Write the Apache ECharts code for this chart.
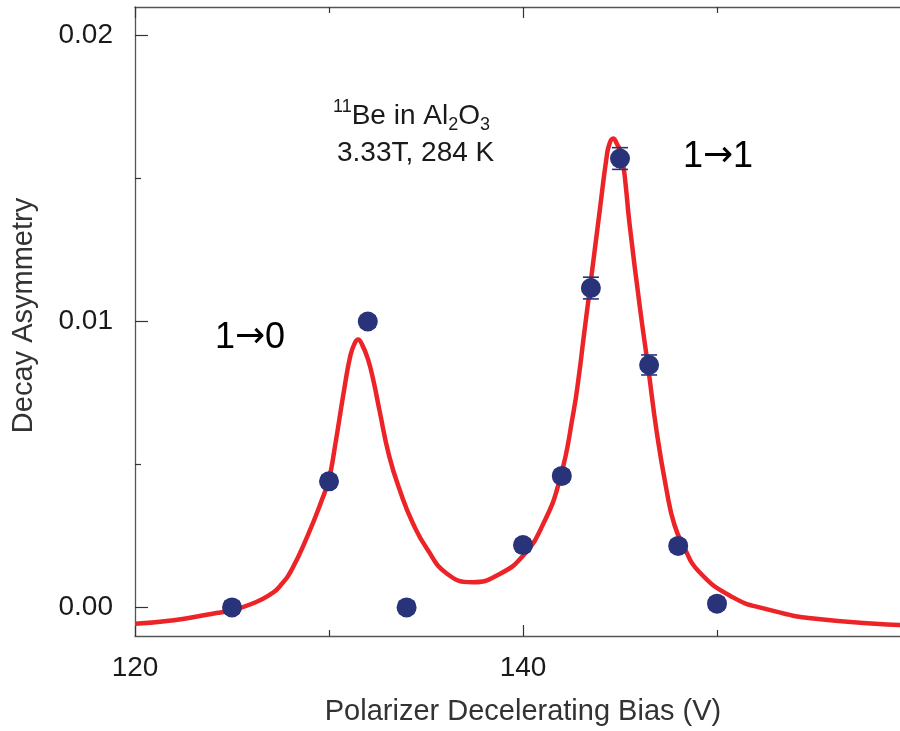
<!DOCTYPE html>
<html>
<head>
<meta charset="utf-8">
<script src="https://cdn.jsdelivr.net/npm/echarts@6/dist/echarts.min.js"></script>
<style>html,body{margin:0;padding:0;background:#fff;overflow:hidden;width:900px;height:731px}#c{width:914px;height:731px}</style>
</head>
<body>
<div id="c"></div>
<script>
// Measured data points
var biasV = [125, 130, 132, 134, 140, 142, 143.5, 145, 146.5, 148, 150];
var asym = [0.0000, 0.00441, 0.0100, 0.0000, 0.00218, 0.00460, 0.01117, 0.01570, 0.00848, 0.00215, 0.00013];
var asymErr = [0.0002, 0.0002, 0.0002, 0.0002, 0.0002, 0.0002, 0.00038, 0.00038, 0.00035, 0.0002, 0.0002];

// Fitted curve
var fitX = [120, 122, 124, 125, 126, 126.9, 127.5, 128.1, 128.9, 129.6, 130.0, 130.3, 130.8, 131.1, 131.3, 131.5, 131.7, 132.0, 132.3, 132.6, 133.1, 133.7, 134.3, 135.05, 136.1, 137.4, 138.8, 140.0, 141.0, 141.9, 142.6, 142.9, 143.1, 143.45, 143.97, 144.3, 144.45, 144.65, 144.85, 145.1, 145.5, 146.03, 146.45, 146.9, 147.4, 147.8, 148.26, 149.1, 150.8, 152.5, 155.1, 160];
var fitY = [-0.00057, -0.00045, -0.00022, -0.0001, 0.00012, 0.00042, 0.00077, 0.00135, 0.00251, 0.0037, 0.0045, 0.0056, 0.0077, 0.0088, 0.0092, 0.00937, 0.0092, 0.0087, 0.0079, 0.0069, 0.0053, 0.0040, 0.00298, 0.00205, 0.00117, 0.00088, 0.00117, 0.00181, 0.00286, 0.00448, 0.00682, 0.0082, 0.0093, 0.01117, 0.01396, 0.0157, 0.0162, 0.0164, 0.0162, 0.0158, 0.01337, 0.01047, 0.0084, 0.0061, 0.0041, 0.0029, 0.00216, 0.00123, 0.00036, -0.00005, -0.0004, -0.00063];

var yMajorTicks = [0, 0.01, 0.02];
var yMinorTicks = [0.005, 0.015];
var xLabels = [120, 140];

var FONT = 'Liberation Sans, Arial, sans-serif';
var TXT = '#1a1a1a';
var AX = '#555';
var XMIN = 120, XMAX = 160, YMIN = -0.001, YMAX = 0.021;

var points = biasV.map(function (x, i) { return [x, asym[i]]; });
var errs = biasV.map(function (x, i) { return [x, asym[i] - asymErr[i], asym[i] + asymErr[i]]; });
var fit = fitX.map(function (x, i) { return [x, fitY[i]]; });

function xAx(pos, extra) {
  var a = {
    type: 'value', min: XMIN, max: XMAX, interval: 20, position: pos,
    axisLine: {show: true, onZero: false, lineStyle: {color: AX, width: 1.3}},
    axisTick: {show: true, inside: true, length: 11, lineStyle: {color: '#333', width: 1.2}},
    minorTick: {show: true, splitNumber: 2, length: 6, lineStyle: {color: '#333', width: 1.2}},
    splitLine: {show: false}, minorSplitLine: {show: false},
    axisLabel: {show: false}
  };
  return Object.assign(a, extra || {});
}

var chart = echarts.init(document.getElementById('c'), null, {renderer: 'canvas'});
chart.setOption({
  animation: false,
  backgroundColor: '#fff',
  grid: {left: 135, right: 0, top: 7, bottom: 94, containLabel: false},
  xAxis: [
    xAx('bottom', {
      axisLabel: {show: true, fontSize: 28, fontFamily: FONT, color: TXT, margin: 18,
        formatter: function (v) { return xLabels.indexOf(v) >= 0 ? String(v) : ''; }},
      name: 'Polarizer Decelerating Bias (V)', nameLocation: 'middle', nameGap: 61,
      nameTextStyle: {fontSize: 29, fontFamily: FONT, color: '#333', padding: [0, 0, 0, 0]}
    }),
    xAx('top')
  ],
  yAxis: [{
    type: 'value', min: YMIN, max: YMAX, position: 'left',
    axisLine: {show: true, onZero: false, lineStyle: {color: AX, width: 1.3}},
    axisTick: {show: true, inside: true, length: 13, customValues: yMajorTicks, lineStyle: {color: '#333', width: 1.2}},
    splitLine: {show: false},
    axisLabel: {fontSize: 28, fontFamily: FONT, color: TXT, margin: 22, customValues: yMajorTicks,
      formatter: function (v) { return v.toFixed(2); }},
    name: 'Decay Asymmetry', nameLocation: 'middle', nameGap: 97, nameRotate: 90,
    nameTextStyle: {fontSize: 29, fontFamily: FONT, color: '#333', padding: [0, 0, 0, 12]}
  }, {
    type: 'value', min: YMIN, max: YMAX, position: 'left',
    axisLine: {show: false, onZero: false},
    axisTick: {show: true, inside: true, length: 6, customValues: yMinorTicks, lineStyle: {color: '#333', width: 1.2}},
    splitLine: {show: false},
    axisLabel: {show: false}
  }],
  series: [{
    type: 'line', data: fit, smooth: 0.5, showSymbol: false, symbol: 'none',
    lineStyle: {color: '#ec2428', width: 4.5}, z: 2, clip: true
  }, {
    type: 'custom', data: errs, z: 3,
    renderItem: function (params, api) {
      var x = api.value(0);
      var lo = api.coord([x, api.value(1)]);
      var hi = api.coord([x, api.value(2)]);
      var hw = 8;
      var st = {stroke: '#283379', lineWidth: 1.6};
      return {type: 'group', children: [
        {type: 'line', shape: {x1: lo[0], y1: lo[1], x2: hi[0], y2: hi[1]}, style: st},
        {type: 'line', shape: {x1: lo[0] - hw, y1: lo[1], x2: lo[0] + hw, y2: lo[1]}, style: st},
        {type: 'line', shape: {x1: hi[0] - hw, y1: hi[1], x2: hi[0] + hw, y2: hi[1]}, style: st}
      ]};
    }
  }, {
    type: 'scatter', data: points, symbol: 'circle', symbolSize: 20,
    itemStyle: {color: '#283379', opacity: 1}, z: 4
  }],
  graphic: [{
    type: 'text', x: 333, y: 116, z: 10,
    style: {
      text: '{sup|11}{n|Be in Al}{sub|2}{n|O}{sub|3}', align: 'left', verticalAlign: 'middle',
      rich: {
        n: {fontSize: 28, fontFamily: FONT, fill: TXT, lineHeight: 36, verticalAlign: 'middle'},
        sup: {fontSize: 18, fontFamily: FONT, fill: TXT, lineHeight: 20, verticalAlign: 'top'},
        sub: {fontSize: 18, fontFamily: FONT, fill: TXT, lineHeight: 20, verticalAlign: 'bottom'}
      }
    }
  }, {
    type: 'text', x: 337, y: 153, z: 10,
    style: {text: '3.33T, 284 K', fontSize: 28, fontFamily: FONT, fill: TXT, align: 'left', verticalAlign: 'middle'}
  }, {
    type: 'text', x: 250, y: 338, z: 10,
    style: {
      text: '{d|1}{a|\u2192}{d|0}', align: 'center', verticalAlign: 'middle',
      rich: {
        d: {fontSize: 36, fontFamily: FONT, fill: '#000', lineHeight: 40},
        a: {fontSize: 36, fontFamily: 'DejaVu Sans', fill: '#000', lineHeight: 40}
      }
    }
  }, {
    type: 'text', x: 718, y: 157, z: 10,
    style: {
      text: '{d|1}{a|\u2192}{d|1}', align: 'center', verticalAlign: 'middle',
      rich: {
        d: {fontSize: 36, fontFamily: FONT, fill: '#000', lineHeight: 40},
        a: {fontSize: 36, fontFamily: 'DejaVu Sans', fill: '#000', lineHeight: 40}
      }
    }
  }]
});
</script>
</body>
</html>
